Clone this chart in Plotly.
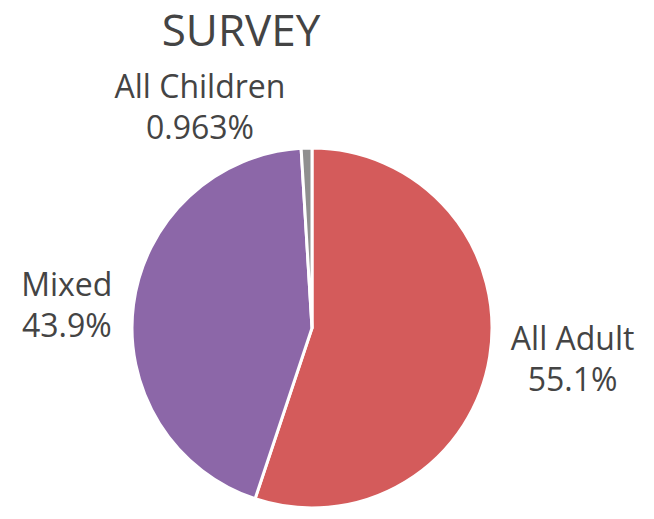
import plotly.graph_objects as go

# Survey composition shares (percent)
labels = ["All Adult", "Mixed", "All Children"]
values = [55.1, 43.9, 0.963]
colors = ["#d45b5b", "#8c67a8", "#8f8f8f"]

W, H = 654, 519
cx, cy, r = 312, 328, 180  # pie centre / radius in pixels

fig = go.Figure(
    go.Pie(
        labels=labels,
        values=values,
        sort=False,
        direction="clockwise",
        rotation=0,
        marker=dict(colors=colors, line=dict(color="white", width=3)),
        textinfo="label+percent",
        textposition="outside",
        textfont=dict(family="Open Sans", size=32, color="#444444"),
        showlegend=False,
        domain=dict(
            x=[(cx - r) / W, (cx + r) / W],
            y=[(H - cy - r) / H, (H - cy + r) / H],
        ),
    )
)

fig.update_layout(
    width=W,
    height=H,
    margin=dict(l=0, r=0, t=0, b=0),
    paper_bgcolor="white",
    title=dict(
        text="SURVEY",
        x=241 / W,
        xanchor="center",
        y=1 - 31 / H,
        yanchor="middle",
        font=dict(family="Open Sans", size=44, color="#444444"),
    ),
)

fig.write_html("out.html")
